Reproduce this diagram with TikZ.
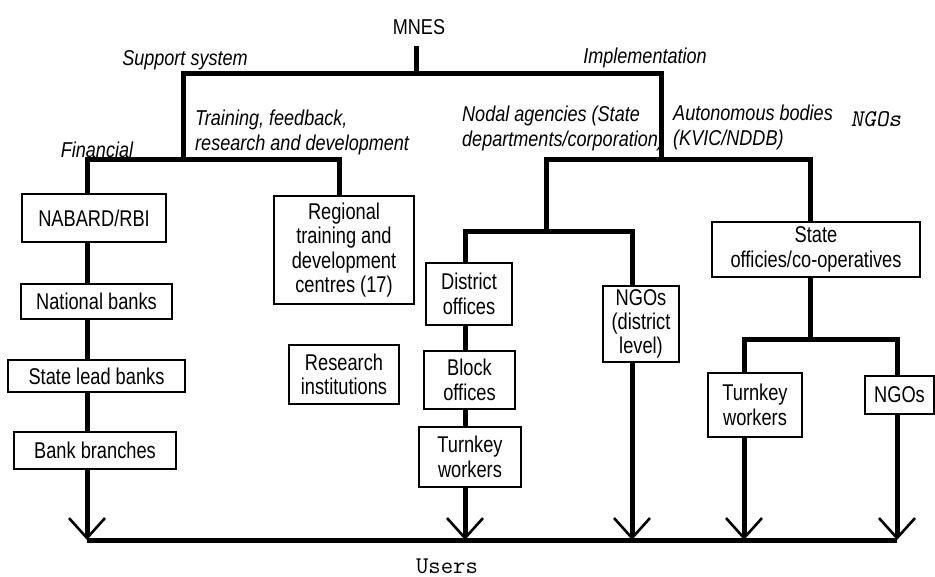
\documentclass[tikz,border=0pt]{standalone}
\usepackage{fontspec}
\setmainfont{Liberation Sans}[FakeStretch=0.84]
\newfontfamily\boxfont{Liberation Sans}[FakeStretch=0.80]
\usetikzlibrary{arrows.meta}
\begin{document}
\begin{tikzpicture}[x=1pt,y=-1pt,
  box/.style={draw, line width=1.2pt, inner sep=0pt, align=center, font=\boxfont\fontsize{22.8}{24.3}\selectfont},
  lbl/.style={font=\fontsize{21.5}{25}\selectfont\itshape, inner sep=0pt, align=left},
  plain/.style={font=\fontsize{21.5}{25}\selectfont, inner sep=0pt},
  mono/.style={font=\fontsize{24}{26}\selectfont\ttfamily, inner sep=0pt},
  bar/.style={line width=5pt, line join=miter},
  arr/.style={bar, -{Straight Barb[length=20pt,width=36pt,line width=2.6pt]}},
]
\useasboundingbox (0,0) rectangle (935,577);

% text labels
\node[plain] (mnes) at (419,27) {MNES};
\node[lbl] (supp) at (185,60) {Support system};
\node[lbl] (impl) at (645,58) {Implementation};
\node[lbl] (fin) at (97,150) {Financial};
\node[lbl, anchor=north west] (train) at (195,110) {Training, feedback,\\research and development};
\node[lbl, anchor=north west] (nodal) at (462,106) {Nodal agencies (State\\departments/corporation)};
\node[lbl, anchor=north west] (auton) at (673,105) {Autonomous bodies\\(KVIC/NDDB)};
\node[mono, font=\fontsize{24}{26}\selectfont\ttfamily\slshape] (ngotop) at (876,119) {NGOs};
\node[mono] (users) at (447,566) {Users};

% boxes
\node[box, minimum width=144pt, minimum height=48pt] (nabard) at (94,218) {NABARD/RBI};
\node[box, minimum width=151pt, minimum height=35pt] (natbanks) at (96.5,301.5) {National banks};
\node[box, minimum width=177pt, minimum height=32pt] (statelead) at (96.5,376) {State lead banks};
\node[box, minimum width=162pt, minimum height=37pt] (bankbr) at (95,450.5) {Bank branches};
\node[box, minimum width=140pt, minimum height=108pt] (regional) at (344,250) {Regional\\training and\\development\\centres (17)};
\node[box, minimum width=110pt, minimum height=59pt] (research) at (344,374.5) {Research\\institutions};
\node[box, minimum width=86pt, minimum height=62pt] (district) at (469,294) {District\\offices};
\node[box, minimum width=91pt, minimum height=58pt] (block) at (469.5,380) {Block\\offices};
\node[box, minimum width=102pt, minimum height=60pt] (turnkeya) at (470,457) {Turnkey\\workers};
\node[box, minimum width=76pt, minimum height=76pt] (ngosd) at (641,324) {NGOs\\(district\\level)};
\node[box, minimum width=208pt, minimum height=55pt] (stateoff) at (816,249.5) {State\\officies/co-operatives};
\node[box, minimum width=94pt, minimum height=64pt] (turnkeyb) at (755,405) {Turnkey\\workers};
\node[box, minimum width=69pt, minimum height=38pt] (ngosr) at (899.5,395) {NGOs};

% junction points
\coordinate (mnesTop) at (416,46);
\coordinate (topJ) at (416,74);
\coordinate (supL) at (183,74);
\coordinate (impR) at (661,74);
\coordinate (finJ) at (183,160);
\coordinate (finL) at (87,160);
\coordinate (finR) at (339,160);
\coordinate (impJ) at (661,160);
\coordinate (nodL) at (546,160);
\coordinate (autR) at (810,160);
\coordinate (nodJ) at (546,232);
\coordinate (distL) at (465,232);
\coordinate (ngoL) at (632,232);
\coordinate (stJ) at (810,340);
\coordinate (tkL) at (744,340);
\coordinate (ngR) at (897,340);
\coordinate (bA) at (87,540);
\coordinate (bB) at (465,540);
\coordinate (bC) at (632,540);
\coordinate (bD) at (744,540);
\coordinate (bE) at (897,540);

% tree
\draw[bar] (mnesTop) -- (topJ);
\draw[bar] (finJ) -- (supL) -- (impR) -- (impJ);
\draw[bar] (nabard.north -| finL) -- (finL) -- (finR) -- (regional.north -| finR);
\draw[bar] (nodJ) -- (nodL) -- (autR) -- (stateoff.north -| autR);
\draw[bar] (district.north -| distL) -- (distL) -- (ngoL) -- (ngosd.north -| ngoL);

% financial column
\draw[bar] (nabard.south -| finL) -- (natbanks.north -| finL);
\draw[bar] (natbanks.south -| finL) -- (statelead.north -| finL);
\draw[bar] (statelead.south -| finL) -- (bankbr.north -| finL);
\draw[arr] (bankbr.south -| finL) -- (bA);

% nodal column
\draw[bar] (district.south -| distL) -- (block.north -| distL);
\draw[bar] (block.south -| distL) -- (turnkeya.north -| distL);
\draw[arr] (turnkeya.south -| distL) -- (bB);
\draw[arr] (ngosd.south -| ngoL) -- (bC);

% autonomous column
\draw[bar] (stateoff.south -| autR) -- (stJ);
\draw[bar] (turnkeyb.north -| tkL) -- (tkL) -- (ngR) -- (ngosr.north -| ngR);
\draw[arr] (turnkeyb.south -| tkL) -- (bD);
\draw[arr] (ngosr.south -| ngR) -- (bE);

% users line
\draw[bar] (bA) -- (bE);
\end{tikzpicture}
\end{document}
